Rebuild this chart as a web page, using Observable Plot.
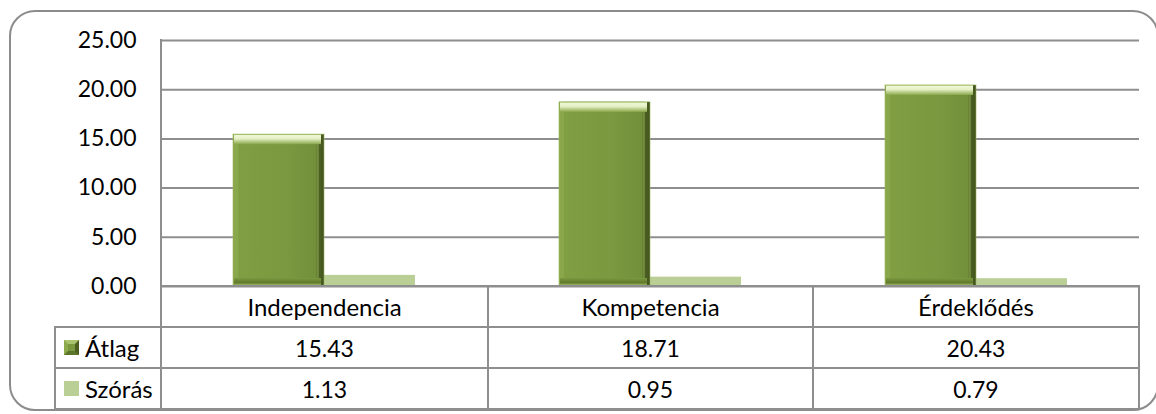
<!DOCTYPE html>
<html>
<head>
<meta charset="utf-8">
<script src="https://cdn.jsdelivr.net/npm/d3@7"></script>
<script src="https://cdn.jsdelivr.net/npm/@observablehq/plot@0.6"></script>
<style>
  html, body { margin: 0; padding: 0; background: #fff; }
  #wrap { position: relative; width: 1156px; height: 414px; overflow: hidden; font-family: Lato, "Open Sans", sans-serif; }
  #outer { position: absolute; left: 9px; top: 10px; width: 1150px; height: 401px; border: 2px solid #8c8c8c; border-radius: 26px; box-sizing: border-box; }
  #chart { position: absolute; left: 0; top: 0; }
  #axisline { position: absolute; left: 160px; top: 39px; width: 2px; height: 248px; background: #8e8e8e; }
  #tbl { position: absolute; left: 0; top: 0; }
  .cell { position: absolute; box-sizing: border-box; display: flex; align-items: center; justify-content: center; font-size: 23px; color: #000; }
  .cat { font-size: 24px; }
  .hline { position: absolute; height: 2px; background: #8e8e8e; }
  .vline { position: absolute; width: 2px; background: #8e8e8e; }
  .leg { justify-content: flex-start; padding-left: 9px; font-size: 24px; }
  .sw { width: 15px; height: 15px; box-sizing: border-box; margin-right: 6px; flex: none; }
  .sw0 { background: #7a983e; border-style: solid; border-width: 4px; border-top-color: #a9c36e; border-left-color: #8cab4c; border-right-color: #4b5e20; border-bottom-color: #5d742b; }
  .sw1 { background: #bacf96; }
</style>
</head>
<body>
<div id="wrap">
  <div id="outer"></div>
  <div id="chart"></div>
  <div id="axisline"></div>
  <div id="tbl"></div>
</div>
<script>
// ---- data ----
const categories = ["Independencia", "Kompetencia", "Érdeklődés"];
const seriesNames = ["Átlag", "Szórás"];
const atlag = [15.43, 18.71, 20.43];
const szoras = [1.13, 0.95, 0.79];
const yTicks = [0, 5, 10, 15, 20, 25];

const seriesValues = [atlag, szoras];
const data = categories.flatMap((c, i) => seriesNames.map((s, j) => ({category: c, series: s, value: seriesValues[j][i]})));
const atlagData = data.filter(d => d.series === seriesNames[0]);
const szorasData = data.filter(d => d.series === seriesNames[1]);

const common = {x: "series", fx: "category"};

const plot = Plot.plot({
  width: 1156,
  height: 414,
  marginTop: 40,
  marginBottom: 128,
  marginLeft: 161,
  marginRight: 17,
  style: {fontFamily: "Lato, 'Open Sans', sans-serif", fontSize: "23px", color: "#000", background: "transparent", overflow: "visible"},
  fx: {domain: categories, padding: 0, axis: null, label: null},
  x: {domain: seriesNames, paddingInner: 0, paddingOuter: 0.772, axis: null, label: null},
  y: {domain: [0, 25], ticks: yTicks, tickFormat: d => d.toFixed(2), tickSize: 0, tickPadding: 25, label: null},
  marks: [
    Plot.ruleY(yTicks, {stroke: "#8e8e8e", strokeWidth: 2}),
    // Szórás bars (flat light green)
    Plot.barY(szorasData, {...common, y: "value", fill: "#bacf96"}),
    // Átlag bars (bevelled dark green)
    Plot.barY(atlagData, {...common, y: "value", fill: "#5a7027"}),
    Plot.barY(atlagData, {...common, y: "value", insetRight: 5, fill: "#8aa84b"}),
    Plot.barY(atlagData, {...common, y: "value", insetLeft: 5, insetRight: 7, fill: "url(#bodyGrad)"}),
    Plot.barY(atlagData, {...common, y: "value", fill: "url(#rightGrad)"}),
    Plot.barY(atlagData, {...common, y1: "value", y2: "value", insetTop: 0, insetBottom: -10, insetLeft: 1, insetRight: 3, fill: "url(#topGrad)"}),
    Plot.barY(atlagData, {...common, y1: 0, y2: 0, insetTop: -8, insetBottom: 0, insetLeft: 1, insetRight: 3, fill: "url(#botGrad)"}),
    Plot.barY(atlagData, {...common, y: "value", fill: "none", stroke: "#9ab85a", strokeWidth: 1, strokeOpacity: 0.6})
  ]
});

plot.insertAdjacentHTML("afterbegin", `
<defs>
  <linearGradient id="bodyGrad" x1="0" y1="0" x2="1" y2="0">
    <stop offset="0" stop-color="#809e42"/>
    <stop offset="0.6" stop-color="#7a9940"/>
    <stop offset="1" stop-color="#728f3a"/>
  </linearGradient>
  <linearGradient id="rightGrad" x1="0" y1="0" x2="1" y2="0">
    <stop offset="0" stop-color="#000" stop-opacity="0"/>
    <stop offset="0.91" stop-color="#000" stop-opacity="0"/>
    <stop offset="0.94" stop-color="#34421a" stop-opacity="0.35"/>
    <stop offset="1" stop-color="#34421a" stop-opacity="0.6"/>
  </linearGradient>
  <linearGradient id="topGrad" x1="0" y1="0" x2="0" y2="1">
    <stop offset="0" stop-color="#a3bf63"/>
    <stop offset="0.12" stop-color="#eef6d6"/>
    <stop offset="0.45" stop-color="#e6f0c6"/>
    <stop offset="1" stop-color="#8aa84b"/>
  </linearGradient>
  <linearGradient id="botGrad" x1="0" y1="0" x2="0" y2="1">
    <stop offset="0" stop-color="#7a9940"/>
    <stop offset="0.6" stop-color="#61792b"/>
    <stop offset="0.82" stop-color="#90aa5c"/>
    <stop offset="1" stop-color="#c7d8a3"/>
  </linearGradient>
</defs>`);

document.getElementById("chart").appendChild(plot);

// ---- data table below the plot ----
const tbl = document.getElementById("tbl");
const colX = [55, 161, 488, 813, 1139];   // grid lines
const rowY = [286, 327, 368, 409];
function add(cls, style, html) {
  const el = document.createElement("div");
  el.className = cls;
  Object.assign(el.style, style);
  if (html != null) el.innerHTML = html;
  tbl.appendChild(el);
  return el;
}
// category header row
categories.forEach((c, i) => {
  add("cell cat", {left: colX[i + 1] + "px", top: rowY[0] + "px", width: (colX[i + 2] - colX[i + 1]) + "px", height: (rowY[1] - rowY[0]) + "px"}).textContent = c;
});
// series rows
seriesNames.forEach((s, j) => {
  const top = rowY[j + 1], h = rowY[j + 2] - rowY[j + 1];
  const leg = add("cell leg", {left: colX[0] + "px", top: top + "px", width: (colX[1] - colX[0]) + "px", height: h + "px"});
  const sw = document.createElement("span");
  sw.className = "sw sw" + j;
  leg.appendChild(sw);
  leg.appendChild(document.createTextNode(s));
  seriesValues[j].forEach((v, i) => {
    add("cell", {left: colX[i + 1] + "px", top: top + "px", width: (colX[i + 2] - colX[i + 1]) + "px", height: h + "px"}).textContent = v.toFixed(2);
  });
});
// grid lines of the table
add("hline", {left: (colX[1] - 1) + "px", top: (rowY[0] - 1) + "px", width: (colX[4] - colX[1] + 2) + "px"});
[1, 2, 3].forEach(r => add("hline", {left: (colX[0] - 1) + "px", top: (rowY[r] - 1) + "px", width: (colX[4] - colX[0] + 2) + "px"}));
add("vline", {left: (colX[0] - 1) + "px", top: (rowY[1] - 1) + "px", height: (rowY[3] - rowY[1] + 2) + "px"});
[1, 2, 3, 4].forEach(c => add("vline", {left: (colX[c] - 1) + "px", top: (rowY[0] - 1) + "px", height: (rowY[3] - rowY[0] + 2) + "px"}));
</script>
</body>
</html>
